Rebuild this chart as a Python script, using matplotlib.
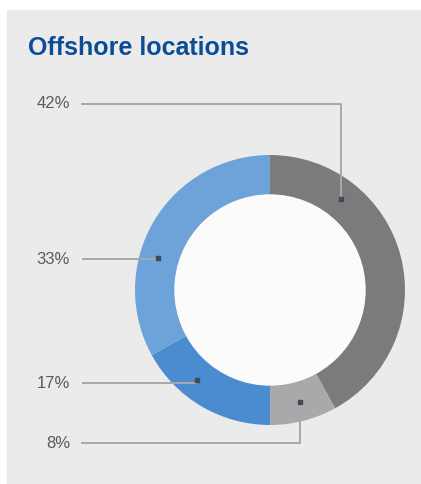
import numpy as np
import matplotlib.pyplot as plt
from matplotlib.patches import Rectangle, Circle

# Offshore locations share (clockwise from 12 o'clock)
shares = [42, 8, 17, 33]
labels = ['42%', '8%', '17%', '33%']
colors = ['#7b7b7d', '#a9a9ab', '#4a8ccf', '#6ea3d9']

W, H = 421, 484
fig = plt.figure(figsize=(W / 100, H / 100), dpi=100)
fig.patch.set_facecolor('white')
ax = fig.add_axes([0, 0, 1, 1])

# grey panel
ax.add_patch(Rectangle((7, 0), W - 7, H - 10, color='#ebebeb', zorder=0))

ax.text(28, H - 48, 'Offshore locations', fontsize=18, fontweight='bold',
        color='#0b4c97', va='center', ha='left', family='Liberation Sans')

cx, cy, R, ring = 270, H - 290, 135, 40
ax.pie(shares, colors=colors, startangle=90, counterclock=False,
       center=(cx, cy), radius=R, frame=True,
       wedgeprops=dict(width=ring, linewidth=0))
ax.add_patch(Circle((cx, cy), R - ring, color='#fbfbfb', zorder=3))
ax.set_xlim(0, W)
ax.set_ylim(0, H)
ax.set_aspect('equal')
ax.axis('off')

# leader lines: (label, label y, dot angle, corner)
leaders = [
    ('42%', 104, 52, 'down'),
    ('33%', 259, 164, None),
    ('17%', 383, 231, None),
    ('8%', 443, 285, 'up'),
]
line_c = '#a8a8a8'
rd = 116
for lab, ly, ang, kind in leaders:
    px = cx + rd * np.cos(np.radians(ang))
    py = cy + rd * np.sin(np.radians(ang))
    y = H - ly
    ax.text(70, y, lab, fontsize=12, color='#5a5a5a', ha='right', va='center',
            family='Liberation Sans')
    if kind is None:
        ax.plot([82, px], [y, y], color=line_c, lw=1.4, zorder=4, solid_capstyle='butt')
    else:
        ax.plot([82, px, px], [y, y, py], color=line_c, lw=1.4, zorder=4)
    ax.plot(px, py, 's', ms=2.5, color='#404a55', zorder=5)

fig.savefig('out.png', dpi=100, facecolor=fig.get_facecolor())
